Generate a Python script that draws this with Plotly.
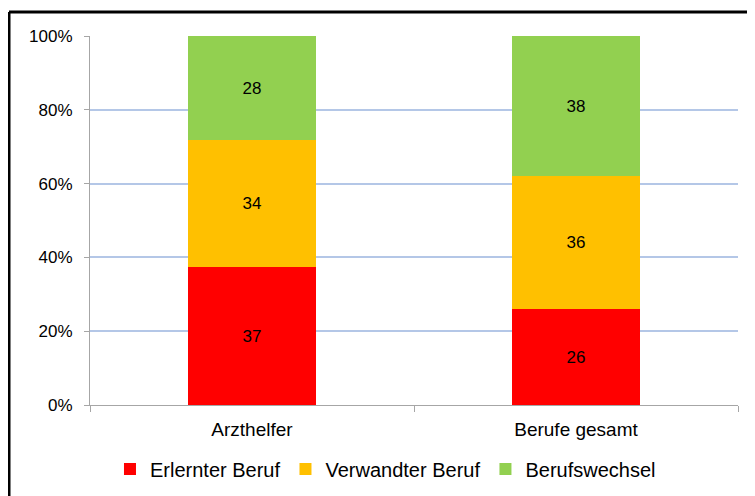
import plotly.graph_objects as go

categories = ["Arzthelfer", "Berufe gesamt"]
series_names = ["Erlernter Beruf", "Verwandter Beruf", "Berufswechsel"]
erlernt = [37, 26]
verwandt = [34, 36]
wechsel = [28, 38]
colors = ["#FF0000", "#FFC000", "#92D050"]
y_ticks = [0, 20, 40, 60, 80, 100]
y_tick_labels = ["0%", "20%", "40%", "60%", "80%", "100%"]

FONT = "Liberation Sans, Arial, sans-serif"

fig = go.Figure()
for name, vals, col in zip(series_names, [erlernt, verwandt, wechsel], colors):
    fig.add_trace(go.Bar(
        x=categories, y=vals, name=name, marker=dict(color=col, line=dict(width=0)),
        text=[str(v) for v in vals], textposition="inside", insidetextanchor="middle",
        textfont=dict(family=FONT, size=17, color="black"),
        constraintext="none",
    ))

# page body has an 8px margin, so the figure is drawn 8px smaller and shifted
OFF = 8
W, H = 755 - OFF, 496 - OFF
ml, mr, mt, mb = 90 - OFF, 17, 36 - OFF, 91
pw, ph = W - ml - mr, H - mt - mb

def px(x):
    return (x - OFF - ml) / pw

def py(y):
    return 1 - (y - OFF - mt) / ph

fig.update_layout(
    barmode="stack", barnorm="percent", bargap=0.605,
    width=W, height=H, margin=dict(l=ml, r=mr, t=mt, b=mb, autoexpand=False),
    paper_bgcolor="white", plot_bgcolor="white",
    font=dict(family=FONT, size=17, color="black"),
    showlegend=True,
    legend=dict(orientation="h", x=0.456, xanchor="center", y=py(469), yanchor="middle",
                font=dict(size=20), itemwidth=30, traceorder="normal"),
    xaxis=dict(showline=True, linecolor="#A6A6A6", linewidth=1, ticks="outside",
               tickson="boundaries", ticklen=6, tickcolor="#A6A6A6",
               tickfont=dict(size=19), showgrid=False, zeroline=False,
               ticklabelstandoff=7),
    yaxis=dict(range=[0, 100], tickvals=y_ticks, ticktext=y_tick_labels,
               showline=True, linecolor="#A6A6A6", linewidth=1, ticks="outside",
               ticklen=5, tickcolor="#A6A6A6", gridcolor="#B4C7E7", gridwidth=1.5,
               zeroline=False, tickfont=dict(size=17), ticklabelstandoff=8),
    shapes=[
        dict(type="line", xref="paper", yref="paper", x0=px(9), x1=px(770), y0=py(12), y1=py(12),
             line=dict(color="black", width=3)),
        dict(type="line", xref="paper", yref="paper", x0=px(9), x1=px(9), y0=py(12), y1=py(510),
             line=dict(color="black", width=3)),
    ],
)

fig.write_html("out.html")
